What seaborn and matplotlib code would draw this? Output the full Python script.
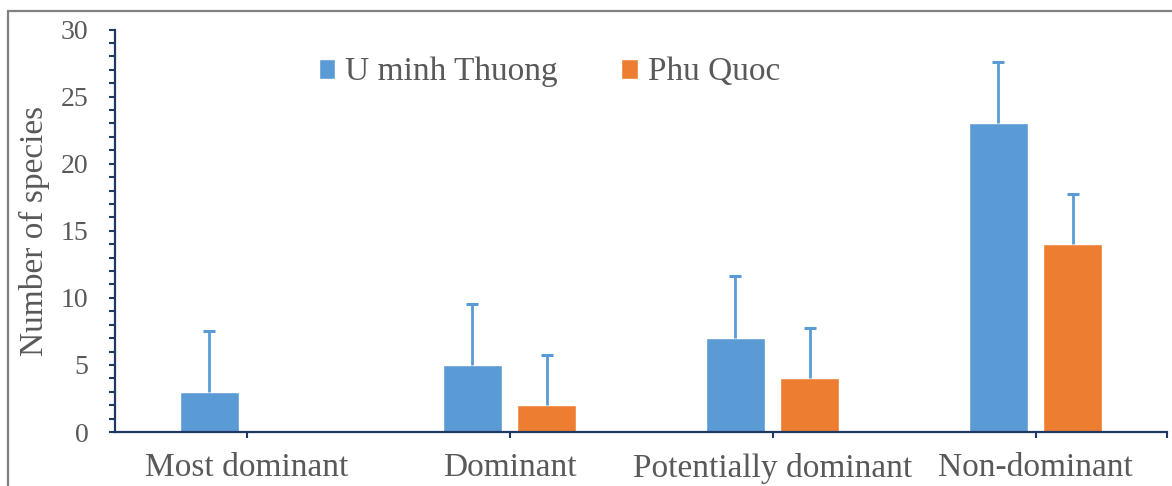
import matplotlib
matplotlib.use("Agg")
import matplotlib.pyplot as plt
from matplotlib.patches import Rectangle
from matplotlib.ticker import MultipleLocator, FixedLocator
import numpy as np
import pandas as pd
import seaborn as sns

# Species counts per dominance class for each site, with upper error values
categories = ["Most dominant", "Dominant", "Potentially dominant", "Non-dominant"]
sites = ["U minh Thuong", "Phu Quoc"]
u_minh_values = [3, 5, 7, 23]
u_minh_errors = [4.5, 4.55, 4.6, 4.6]
phu_quoc_values = [0, 2, 4, 14]
phu_quoc_errors = [0, 3.75, 3.75, 3.75]
y_ticks = [0, 5, 10, 15, 20, 25, 30]

BLUE = "#5B9BD5"
ORANGE = "#ED7D31"
NAVY = "#203864"
TEXT = "#595959"
SERIF = ["Liberation Serif", "DejaVu Serif"]

df = pd.DataFrame({
    "category": categories * 2,
    "site": [sites[0]] * 4 + [sites[1]] * 4,
    "count": u_minh_values + phu_quoc_values,
})
errors = {sites[0]: u_minh_errors, sites[1]: phu_quoc_errors}

sns.set_theme(style="white")
plt.rcParams["font.family"] = SERIF

fig = plt.figure(figsize=(11.72, 4.86), dpi=100, facecolor="white")
ax = fig.add_axes([115 / 1172, 1 - 432 / 486, (1167 - 115) / 1172, (432 - 29.5) / 486])

sns.barplot(data=df, x="category", y="count", hue="site", order=categories,
            hue_order=sites, palette=[BLUE, ORANGE], width=0.564, gap=0.206,
            errorbar=None, saturation=1, ax=ax)

# One-sided (upward) error bars drawn from each bar's top
for container, site in zip(ax.containers, sites):
    for patch, err in zip(container.patches, errors[site]):
        if err <= 0:
            continue
        xc = patch.get_x() + patch.get_width() / 2
        top = patch.get_height()
        ax.errorbar([xc], [top], yerr=[[0], [err]], fmt="none", ecolor=BLUE,
                    elinewidth=2.0, capsize=0, zorder=1)
        ax.plot([xc], [top + err], marker="_", markersize=8, mew=2.2,
                color=BLUE, zorder=1)

ax.set_xlim(-0.5, 3.5)
ax.set_ylim(0, 30)
ax.set_yticks(y_ticks)
ax.yaxis.set_minor_locator(MultipleLocator(1))
ax.xaxis.set_minor_locator(FixedLocator([3.5]))

for side in ["top", "right"]:
    ax.spines[side].set_visible(False)
for side in ["left", "bottom"]:
    ax.spines[side].set_color(NAVY)
    ax.spines[side].set_linewidth(1.6)

ax.tick_params(axis="y", which="both", direction="out", length=4, width=1.5,
               color=NAVY, left=True, labelsize=20, labelcolor=TEXT, pad=15)
ax.tick_params(axis="x", which="both", direction="out", length=4.5, width=1.5,
               color=NAVY, bottom=True, labelsize=24, labelcolor=TEXT, pad=10.5)
for lbl in ax.get_xticklabels() + ax.get_yticklabels():
    lbl.set_family(SERIF)

ax.set_xlabel("")
ax.set_ylabel("Number of species", fontsize=24, color=TEXT, labelpad=8,
              family=SERIF)

sns.move_legend(ax, loc="center", bbox_to_anchor=(0.413, 0.894), ncol=2,
                frameon=False, title=None,
                prop={"family": SERIF, "size": 24}, handlelength=0.5,
                handleheight=0.55, handletextpad=0.3, columnspacing=1.9)
for txt in ax.get_legend().get_texts():
    txt.set_color(TEXT)

# Outer chart border
fig.add_artist(Rectangle((8 / 1172, -0.2), 1.2, 1.2 - 11 / 486,
                         transform=fig.transFigure, fill=False,
                         edgecolor="#808080", linewidth=1.6))

fig.savefig("out.png", dpi=100, facecolor="white")
